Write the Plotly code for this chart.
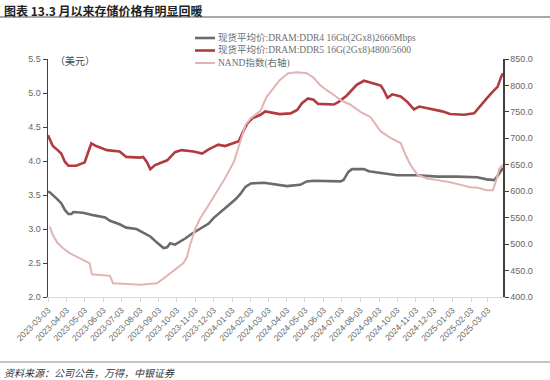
import plotly.graph_objects as go

# ---------------- data ----------------
ddr4_dates = ["2023-03-03", "2023-03-06", "2023-03-17", "2023-03-25", "2023-03-31", "2023-04-06",
              "2023-04-11", "2023-04-14", "2023-04-30", "2023-05-08", "2023-05-19", "2023-06-06",
              "2023-06-14", "2023-06-30", "2023-07-11", "2023-07-28", "2023-08-08", "2023-08-20",
              "2023-08-31", "2023-09-11", "2023-09-17", "2023-09-22", "2023-09-30", "2023-10-08",
              "2023-10-17", "2023-10-28", "2023-11-11", "2023-11-25", "2023-12-03", "2023-12-14",
              "2023-12-28", "2024-01-09", "2024-01-17", "2024-01-25", "2024-02-03", "2024-02-25",
              "2024-03-11", "2024-04-03", "2024-04-25", "2024-05-06", "2024-05-17", "2024-07-01",
              "2024-07-06", "2024-07-14", "2024-07-20", "2024-08-09", "2024-08-17", "2024-09-06",
              "2024-10-03", "2024-11-06", "2024-12-09", "2025-01-11", "2025-02-13", "2025-03-01",
              "2025-03-14", "2025-03-22", "2025-03-28"]
ddr4_values = [3.55, 3.54, 3.45, 3.38, 3.28, 3.22,
               3.22, 3.25, 3.24, 3.22, 3.20, 3.17,
               3.12, 3.07, 3.02, 3.00, 2.95, 2.89,
               2.80, 2.72, 2.73, 2.79, 2.77, 2.81,
               2.86, 2.93, 3.01, 3.08, 3.16, 3.25,
               3.35, 3.44, 3.52, 3.62, 3.67, 3.68,
               3.66, 3.63, 3.65, 3.70, 3.71, 3.70,
               3.72, 3.84, 3.88, 3.88, 3.85, 3.82,
               3.79, 3.79, 3.77, 3.77, 3.76, 3.73,
               3.72, 3.82, 3.90]

ddr5_dates = ["2023-03-03", "2023-03-06", "2023-03-11", "2023-03-19", "2023-03-25", "2023-03-31",
              "2023-04-06", "2023-04-19", "2023-04-28", "2023-05-03", "2023-05-08", "2023-05-14",
              "2023-05-22", "2023-06-09", "2023-06-30", "2023-07-11", "2023-08-03", "2023-08-08",
              "2023-08-14", "2023-08-20", "2023-08-28", "2023-09-06", "2023-09-17", "2023-09-30",
              "2023-10-11", "2023-10-31", "2023-11-14", "2023-11-25", "2023-12-11", "2023-12-22",
              "2024-01-03", "2024-01-14", "2024-01-20", "2024-01-28", "2024-02-06", "2024-02-19",
              "2024-02-27", "2024-03-06", "2024-03-22", "2024-04-09", "2024-04-20", "2024-04-28",
              "2024-05-08", "2024-05-17", "2024-05-25", "2024-06-20", "2024-06-28", "2024-07-11",
              "2024-07-28", "2024-08-09", "2024-08-25", "2024-09-06", "2024-09-11", "2024-09-17",
              "2024-09-25", "2024-10-09", "2024-10-20", "2024-10-31", "2024-11-09", "2024-12-03",
              "2024-12-17", "2024-12-30", "2025-01-22", "2025-02-08", "2025-02-19", "2025-03-01",
              "2025-03-11", "2025-03-19", "2025-03-25", "2025-03-28"]
ddr5_values = [4.38, 4.31, 4.22, 4.16, 4.11, 3.99,
               3.93, 3.93, 3.96, 3.98, 4.11, 4.26,
               4.22, 4.16, 4.14, 4.06, 4.05, 4.06,
               3.99, 3.88, 3.94, 3.97, 4.01, 4.13,
               4.16, 4.14, 4.11, 4.17, 4.24, 4.22,
               4.26, 4.29, 4.41, 4.55, 4.63, 4.68,
               4.73, 4.72, 4.69, 4.70, 4.75, 4.85,
               4.92, 4.90, 4.84, 4.83, 4.87, 4.96,
               5.12, 5.18, 5.14, 5.11, 5.04, 4.93,
               4.98, 4.95, 4.87, 4.76, 4.80, 4.76,
               4.73, 4.69, 4.68, 4.70, 4.82, 4.92,
               5.02, 5.09, 5.24, 5.29]

nand_dates = ["2023-03-06", "2023-03-11", "2023-03-19", "2023-03-28", "2023-04-08", "2023-04-19",
              "2023-04-30", "2023-05-11", "2023-05-15", "2023-06-14", "2023-06-19", "2023-08-03",
              "2023-08-20", "2023-08-31", "2023-09-11", "2023-09-22", "2023-10-03", "2023-10-14",
              "2023-10-20", "2023-10-25", "2023-11-03", "2023-11-11", "2023-11-25", "2023-12-09",
              "2023-12-22", "2024-01-06", "2024-01-14", "2024-01-25", "2024-02-03", "2024-02-14",
              "2024-02-19", "2024-02-29", "2024-03-11", "2024-03-22", "2024-04-05", "2024-04-20",
              "2024-05-06", "2024-05-17", "2024-05-28", "2024-06-08", "2024-06-20", "2024-07-03",
              "2024-07-17", "2024-08-03", "2024-08-20", "2024-08-28", "2024-09-06", "2024-09-22",
              "2024-10-09", "2024-10-17", "2024-10-25", "2024-11-06", "2024-11-22", "2024-12-09",
              "2024-12-30", "2025-01-17", "2025-02-03", "2025-02-13", "2025-03-01", "2025-03-11",
              "2025-03-16", "2025-03-22", "2025-03-28"]
nand_values = [533, 517, 502, 492, 483, 476,
               470, 464, 443, 440, 426, 423,
               424, 426, 435, 445, 454, 464,
               476, 498, 530, 549, 574, 599,
               624, 656, 687, 725, 738, 747,
               752, 778, 795, 810, 823, 825,
               823, 815, 801, 791, 782, 771,
               764, 750, 740, 728, 713, 701,
               691, 669, 650, 631, 624, 621,
               617, 612, 607, 607, 602, 602,
               618, 643, 650]

x_tick_labels = ["2023-03-03", "2023-04-03", "2023-05-03", "2023-06-03", "2023-07-03", "2023-08-03",
                 "2023-09-03", "2023-10-03", "2023-11-03", "2023-12-03", "2024-01-03", "2024-02-03",
                 "2024-03-03", "2024-04-03", "2024-05-03", "2024-06-03", "2024-07-03", "2024-08-03",
                 "2024-09-03", "2024-10-03", "2024-11-03", "2024-12-03", "2025-01-03", "2025-02-03",
                 "2025-03-03"]

series_names = ["现货平均价:DRAM:DDR4 16Gb(2Gx8)2666Mbps",
                "现货平均价:DRAM:DDR5 16G(2Gx8)4800/5600",
                "NAND指数(右轴)"]

title_text = "图表 13.3 月以来存储价格有明显回暖"
source_text = "资料来源：公司公告，万得，中银证券"
unit_text = "（美元）"

# ---------------- styling ----------------
C_DDR4 = "#6b6b6b"
C_DDR5 = "#b03a3e"
C_NAND = "#e3b3b3"
W = [2.6, 2.6, 2.0]
SERIF = "Liberation Serif, Noto Sans CJK SC, serif"
SANS = "Liberation Sans, Noto Sans, sans-serif"
CJK = "Noto Sans CJK SC, sans-serif"
TICK_GRAY = "#666666"

L, R, T, B = 48, 47, 59, 83
FW, FH = 550, 380
PW, PH = FW - L - R, FH - T - B


def px(xp):
    return (xp - L) / PW


def py(yp):
    return (FH - B - yp) / PH


fig = go.Figure()
fig.add_trace(go.Scatter(x=ddr4_dates, y=ddr4_values, name=series_names[0], mode="lines",
                         line=dict(color=C_DDR4, width=W[0]), yaxis="y"))
fig.add_trace(go.Scatter(x=ddr5_dates, y=ddr5_values, name=series_names[1], mode="lines",
                         line=dict(color=C_DDR5, width=W[1]), yaxis="y"))
fig.add_trace(go.Scatter(x=nand_dates, y=nand_values, name=series_names[2], mode="lines",
                         line=dict(color=C_NAND, width=W[2]), yaxis="y2"))

shapes = []
annotations = []

# compact legend (three rows, top centre)
leg_rows = [38, 50.5, 63]
leg_cols = [C_DDR4, C_DDR5, C_NAND]
for i, (name, col) in enumerate(zip(series_names, leg_cols)):
    shapes.append(dict(type="line", xref="paper", yref="paper",
                       x0=px(195), x1=px(215), y0=py(leg_rows[i]), y1=py(leg_rows[i]),
                       line=dict(color=col, width=W[i])))
    annotations.append(dict(text=name, xref="paper", yref="paper", x=px(216), y=py(leg_rows[i]),
                            xanchor="left", yanchor="middle", showarrow=False,
                            font=dict(family=SERIF, size=9.5, color="#6e6e6e")))

# title, separator lines, source, unit
annotations.append(dict(text="<b>" + title_text + "</b>", xref="paper", yref="paper",
                        x=px(2), y=py(10), xanchor="left", yanchor="middle", showarrow=False,
                        font=dict(family=CJK, size=12, color="#222222")))
shapes.append(dict(type="line", xref="paper", yref="paper", x0=px(0), x1=px(550),
                   y0=py(17), y1=py(17), line=dict(color="#8c8c8c", width=1.5)))
shapes.append(dict(type="line", xref="paper", yref="paper", x0=px(0), x1=px(550),
                   y0=py(362), y1=py(362), line=dict(color="#8c8c8c", width=1.2)))
annotations.append(dict(text=source_text, xref="paper", yref="paper",
                        x=px(2), y=py(372), xanchor="left", yanchor="middle", showarrow=False,
                        font=dict(family=CJK, size=10, color="#333333", style="italic")))
annotations.append(dict(text=unit_text, xref="paper", yref="paper",
                        x=px(53), y=py(60), xanchor="left", yanchor="middle", showarrow=False,
                        font=dict(family=CJK, size=10, color="#444444")))

fig.update_layout(
    width=FW, height=FH,
    margin=dict(l=L, r=R, t=T, b=B, autoexpand=False),
    paper_bgcolor="white", plot_bgcolor="white",
    showlegend=False,
    shapes=shapes, annotations=annotations,
    xaxis=dict(type="date", range=["2023-03-03", "2025-03-28"],
               tickvals=x_tick_labels, ticktext=x_tick_labels, tickangle=-45,
               tickfont=dict(family=SANS, size=8.5, color=TICK_GRAY),
               showgrid=False, zeroline=False,
               showline=True, linecolor="#d9d9d9", linewidth=1,
               ticks="outside", ticklen=4, tickcolor="#d9d9d9"),
    yaxis=dict(range=[2.0, 5.5], dtick=0.5, tick0=2.0, tickformat=".1f",
               tickfont=dict(family=SANS, size=9, color=TICK_GRAY),
               showgrid=False, zeroline=False,
               showline=True, linecolor="#404040", linewidth=1.5,
               ticks="outside", ticklen=4, tickcolor="#404040"),
    yaxis2=dict(range=[400, 850], dtick=50, tick0=400, tickformat=".1f",
                overlaying="y", side="right",
                tickfont=dict(family=SANS, size=9, color=TICK_GRAY),
                showgrid=False, zeroline=False,
                showline=True, linecolor="#404040", linewidth=1.5,
                ticks="outside", ticklen=4, tickcolor="#404040"),
)

# remove the browser's default page margin so the 550x380 figure fills the window
fig.write_html("out.html",
               config={"displayModeBar": False, "staticPlot": True},
               post_script="document.body.style.margin='0';document.body.style.overflow='hidden';")
